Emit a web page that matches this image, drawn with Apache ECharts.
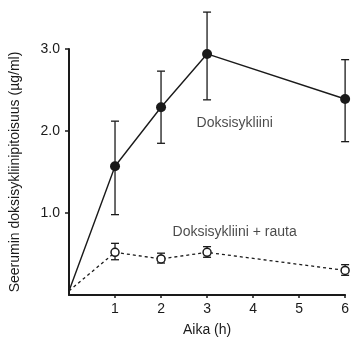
<!DOCTYPE html>
<html>
<head>
<meta charset="utf-8">
<script src="https://cdn.jsdelivr.net/npm/echarts@6/dist/echarts.min.js"></script>
<style>
  html, body { margin: 0; padding: 0; background: #fff; }
  #chart { width: 352px; height: 343px; }
</style>
</head>
<body>
<div id="chart"></div>
<script>
// aika (h)
var hours = [0, 1, 2, 3, 6];
// Doksisykliini
var doksi = [0.05, 1.57, 2.29, 2.94, 2.39];
var doksiLow = [null, 0.98, 1.85, 2.38, 1.87];
var doksiHigh = [null, 2.12, 2.73, 3.45, 2.87];
// Doksisykliini + rauta
var rauta = [0.05, 0.52, 0.44, 0.52, 0.30];
var rautaLow = [null, 0.43, 0.39, 0.46, 0.24];
var rautaHigh = [null, 0.63, 0.51, 0.59, 0.37];
// tekstit kuvaajan sisällä
var labelText = ['Doksisykliini', 'Doksisykliini + rauta'];
var labelPos = [[3.6, 2.1], [3.6, 0.77]];

var FONT = 'Liberation Sans';
var INK = '#1a1a1a';

function points(vals) {
  return hours.map(function (h, i) {
    if (i === 0) return { value: [h, vals[i]], symbol: 'none' };
    return [h, vals[i]];
  });
}

function bars(low, high) {
  var out = [];
  for (var i = 0; i < hours.length; i++) {
    if (low[i] == null) continue;
    out.push([hours[i], low[i], high[i]]);
  }
  return out;
}

// virhepalkit
function errorBar(params, api) {
  var lo = api.coord([api.value(0), api.value(1)]);
  var hi = api.coord([api.value(0), api.value(2)]);
  var w = 4;
  var st = { stroke: INK, lineWidth: 1.3 };
  return {
    type: 'group',
    children: [
      { type: 'line', shape: { x1: lo[0], y1: lo[1], x2: hi[0], y2: hi[1] }, style: st },
      { type: 'line', shape: { x1: lo[0] - w, y1: lo[1], x2: lo[0] + w, y2: lo[1] }, style: st },
      { type: 'line', shape: { x1: hi[0] - w, y1: hi[1], x2: hi[0] + w, y2: hi[1] }, style: st }
    ]
  };
}

var chart = echarts.init(document.getElementById('chart'));
var option = {
  animation: false,
  backgroundColor: '#fff',
  grid: { left: 69, right: 6, top: 49, bottom: 48 },
  xAxis: {
    type: 'value',
    min: 0,
    max: 6,
    interval: 1,
    name: 'Aika (h)',
    nameLocation: 'middle',
    nameGap: 28,
    nameTextStyle: { fontFamily: FONT, fontSize: 14, color: INK },
    splitLine: { show: false },
    axisLine: { lineStyle: { color: INK, width: 2 } },
    axisTick: { length: 3, lineStyle: { color: INK, width: 1.5 } },
    axisLabel: {
      showMinLabel: false,
      margin: 7,
      fontFamily: FONT, fontSize: 14, color: INK
    }
  },
  yAxis: {
    type: 'value',
    min: 0,
    max: 3,
    interval: 1,
    name: 'Seerumin doksisykliinipitoisuus (µg/ml)',
    nameLocation: 'middle',
    nameGap: 47,
    nameTextStyle: { fontFamily: FONT, fontSize: 14, color: INK },
    splitLine: { show: false },
    axisLine: { show: true, lineStyle: { color: INK, width: 2 } },
    axisTick: { show: true, length: 4, lineStyle: { color: INK, width: 1.5 } },
    axisLabel: {
      showMinLabel: false,
      margin: 9,
      fontFamily: FONT, fontSize: 14, color: INK,
      formatter: function (v) { return v.toFixed(1); }
    }
  },
  series: [
    {
      type: 'custom',
      name: 'doksiErr',
      renderItem: errorBar,
      data: bars(doksiLow, doksiHigh),
      clip: false,
      z: 2
    },
    {
      type: 'custom',
      name: 'rautaErr',
      renderItem: errorBar,
      data: bars(rautaLow, rautaHigh),
      clip: false,
      z: 2
    },
    {
      type: 'line',
      name: 'Doksisykliini',
      data: points(doksi),
      clip: false,
      symbol: 'circle',
      symbolSize: 10,
      itemStyle: { color: INK },
      lineStyle: { color: INK, width: 1.4 },
      z: 3
    },
    {
      type: 'line',
      name: 'Doksisykliini + rauta',
      data: points(rauta),
      clip: false,
      symbol: 'circle',
      symbolSize: 8,
      itemStyle: { color: '#fff', borderColor: INK, borderWidth: 1.5 },
      lineStyle: { color: INK, width: 1.3, type: [3, 3] },
      z: 3
    },
    {
      type: 'scatter',
      name: 'tekstit',
      data: labelPos.map(function (p, i) { return { value: p, name: labelText[i] }; }),
      symbolSize: 1,
      itemStyle: { color: 'rgba(0,0,0,0)' },
      silent: true,
      label: {
        show: true,
        position: 'inside',
        formatter: '{b}',
        fontFamily: FONT, fontSize: 14, color: INK
      },
      z: 4
    }
  ]
};
chart.setOption(option);
</script>
</body>
</html>
